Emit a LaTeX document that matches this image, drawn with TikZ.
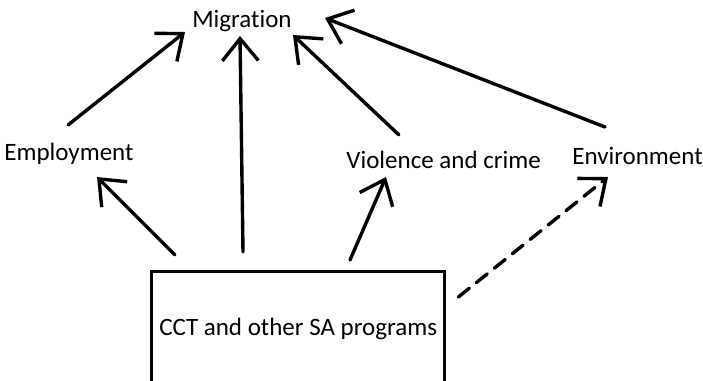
\documentclass[tikz,border=0pt]{standalone}
\usepackage{fontspec}
\setmainfont{Carlito}[Ligatures=NoCommon]
\usetikzlibrary{arrows.meta,calc}

\begin{document}
\begin{tikzpicture}[x=0.5pt,y=-0.5pt,
    arr/.style={-{Straight Barb[length=11pt,width=18pt]},line width=1.7pt,line cap=round},
    lbl/.style={inner sep=0pt,font=\fontsize{12.5}{15}\selectfont},
    prog/.style={draw,line width=1.7pt,inner sep=0pt,minimum width=146.5pt,text height=32pt,text depth=33pt,font=\fontsize{12.5}{15}\selectfont}
]
    \useasboundingbox (0,0) rectangle (703,381);
    \clip (0,0) rectangle (703,381);
    % outcomes
    \node[lbl,anchor=base] (mig) at (242,27) {Migration};
    \node[lbl,anchor=base west] (emp) at (4,160) {Employment};
    \node[lbl,anchor=base west] (vio) at (346,168) {Violence and crime};
    \node[lbl,anchor=base west] (env) at (572,164) {Environment};
    % programs
    \node[prog,anchor=north west] (cct) at (150,270) {CCT and other SA programs};
    % links to migration
    \draw[arr] ($(emp.base west)+(64,-35)$) -- ($(mig.base)+(-57,5)$);
    \draw[arr] ($(cct.north west)+(93,-18)$) -- ($(mig.base)+(-2,9)$);
    \draw[arr] ($(vio.base west)+(53,-33)$) -- ($(mig.base)+(51,8)$);
    \draw[arr] ($(env.base west)+(33,-37)$) -- ($(mig.base)+(83,-9)$);
    % links from programs
    \draw[arr] ($(cct.north west)+(25,-15)$) -- ($(emp.base west)+(93,17)$);
    \draw[arr] ($(cct.north west)+(200,-10)$) -- ($(vio.base west)+(40,9)$);
    \draw[arr,dash pattern=on 7pt off 4.5pt] ($(cct.north east)+(12,27)$) -- ($(env.base west)+(36,13)$);
\end{tikzpicture}
\end{document}
